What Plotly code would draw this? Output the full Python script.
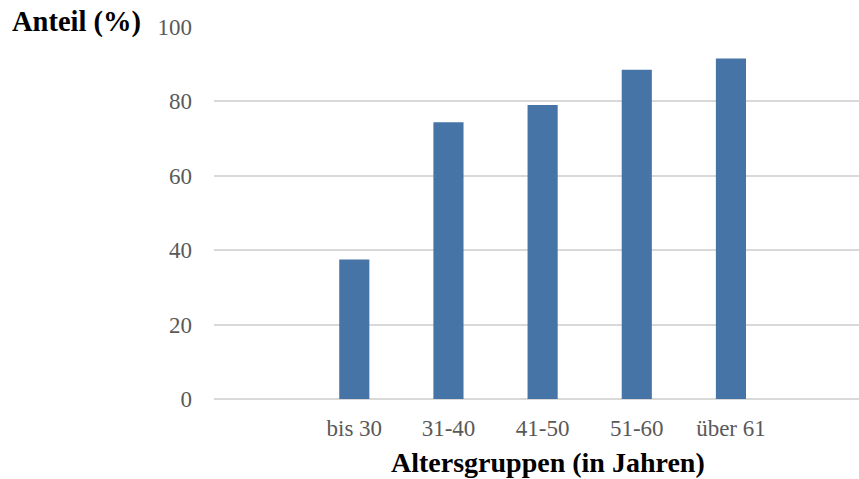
import plotly.graph_objects as go

# Altersgruppen und Anteile (%)
categories = ["bis 30", "31-40", "41-50", "51-60", "über 61"]
values = [37.5, 74.4, 79.0, 88.5, 91.5]
y_ticks = [0, 20, 40, 60, 80, 100]

W, H = 859, 479
left, right, top, bottom = 214, 0, 27, 80

fig = go.Figure(
    go.Bar(
        x=categories,
        y=values,
        width=0.32,
        marker=dict(color="#4674A7", line=dict(width=0)),
    )
)

serif = "Liberation Serif, Times New Roman, serif"

fig.update_layout(
    width=W,
    height=H,
    margin=dict(l=left, r=right, t=top, b=bottom, pad=0),
    paper_bgcolor="white",
    plot_bgcolor="white",
    showlegend=False,
    xaxis=dict(
        type="category",
        range=[-1.49, 5.36],
        showgrid=False,
        showline=False,
        zeroline=False,
        ticks="",
        ticklabelstandoff=13,
        tickfont=dict(family=serif, size=23, color="#595959"),
    ),
    yaxis=dict(
        range=[0, 100],
        tickvals=y_ticks,
        showgrid=True,
        gridcolor="#d9d9d9",
        gridwidth=1.5,
        zeroline=True,
        zerolinecolor="#d9d9d9",
        zerolinewidth=1.5,
        showline=False,
        ticks="",
        ticklabelstandoff=21,
        tickfont=dict(family=serif, size=23, color="#595959"),
    ),
    annotations=[
        dict(
            text="<b>Anteil (%)</b>",
            xref="paper", yref="paper",
            x=-(left - 10) / (W - left - right), xanchor="left",
            y=1 + (top - 22) / (H - top - bottom), yanchor="middle",
            showarrow=False,
            font=dict(family=serif, size=28.5, color="black"),
        ),
        dict(
            text="<b>Altersgruppen (in Jahren)</b>",
            xref="paper", yref="paper",
            x=(548 - left) / (W - left - right), xanchor="center",
            y=-(462 - (H - bottom)) / (H - top - bottom), yanchor="middle",
            showarrow=False,
            font=dict(family=serif, size=28, color="black"),
        ),
    ],
)

fig.write_html("out.html")
